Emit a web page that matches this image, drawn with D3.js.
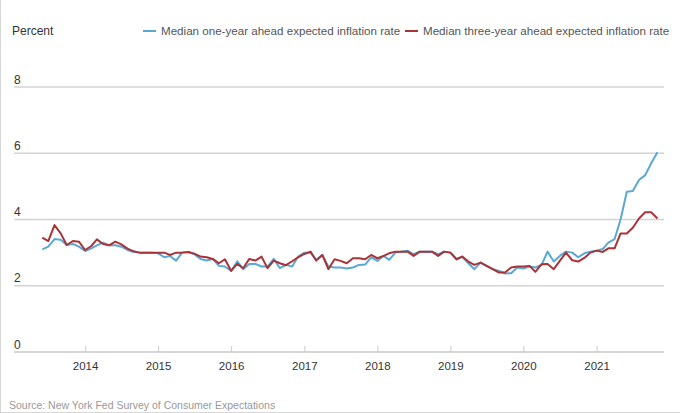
<!DOCTYPE html>
<html>
  <head>
    <meta charset="utf-8" />
    <title>Expected inflation</title>
    <script src="https://d3js.org/d3.v7.min.js"></script>
    <style>
      body { margin: 0; background: #fff; }
      text { font-family: "Liberation Sans", Arial, sans-serif; }
    </style>
  </head>
  <body>
    <svg id="chart" width="680" height="413"></svg>

    <script>
      // monthly, June 2013 .. November 2021
      var startMonth = new Date(2013, 5, 1);

      var oneYear = [
        3.1, 3.18, 3.41, 3.39, 3.23, 3.26, 3.18,
        3.05, 3.13, 3.22, 3.3, 3.22, 3.22, 3.18, 3.08, 3.02, 3.0, 3.0, 3.0,
        2.98, 2.86, 2.9, 2.76, 3.0, 3.02, 2.95, 2.81, 2.76, 2.81, 2.6, 2.58,
        2.45, 2.74, 2.5, 2.66, 2.66, 2.58, 2.58, 2.81, 2.53, 2.63, 2.58, 2.88,
        3.0, 3.0, 2.78, 2.93, 2.58, 2.55, 2.55, 2.52, 2.55, 2.63, 2.64, 2.86,
        2.75, 2.9, 2.78, 3.0, 3.03, 3.06, 2.95, 3.03, 3.03, 3.03, 2.95, 3.03,
        3.0, 2.8, 2.88, 2.68, 2.5, 2.7, 2.6, 2.5, 2.45, 2.37, 2.38, 2.55,
        2.52, 2.58, 2.55, 2.63, 3.03, 2.73, 2.9, 3.03, 3.0, 2.86, 2.98, 3.03,
        3.06, 3.11, 3.3, 3.41, 4.0, 4.84, 4.86, 5.19, 5.34, 5.7, 6.03
      ];

      var threeYear = [
        3.45, 3.35, 3.83, 3.58, 3.23, 3.35, 3.33,
        3.08, 3.2, 3.4, 3.26, 3.22, 3.33, 3.25, 3.12, 3.04, 3.0, 3.0, 3.0,
        3.0, 3.0, 2.93, 3.0, 3.0, 3.02, 2.97, 2.88, 2.86, 2.81, 2.68, 2.8,
        2.45, 2.66, 2.53, 2.81, 2.76, 2.88, 2.53, 2.76, 2.68, 2.62, 2.74, 2.86,
        2.96, 3.03, 2.76, 2.93, 2.5, 2.8, 2.75, 2.68, 2.83, 2.83, 2.8, 2.93,
        2.83, 2.9, 2.98, 3.03, 3.03, 3.03, 2.9, 3.03, 3.03, 3.03, 2.9, 3.03,
        3.0, 2.8, 2.88, 2.73, 2.63, 2.7, 2.6, 2.5, 2.4, 2.4, 2.55, 2.58,
        2.58, 2.6, 2.42, 2.65, 2.66, 2.5, 2.75, 3.0, 2.77, 2.73, 2.84, 3.0,
        3.06, 3.02, 3.13, 3.13, 3.58, 3.58, 3.75, 4.03, 4.22, 4.22, 4.03
      ];

      var yTicks = [0, 2, 4, 6, 8];
      var seriesNames = [
        "Median one-year ahead expected inflation rate",
        "Median three-year ahead expected inflation rate"
      ];
      var seriesColors = ["#5aa8d4", "#a8343a"];

      var months = oneYear.map(function (v, i) {
        return d3.timeMonth.offset(startMonth, i);
      });

      var svg = d3.select("#chart");

      // thin frame on the left and bottom
      svg.append("line").attr("x1", 0.5).attr("x2", 0.5).attr("y1", 0).attr("y2", 413)
        .style("stroke", "#d6d6d6");
      svg.append("line").attr("x1", 0).attr("x2", 680).attr("y1", 412.5).attr("y2", 412.5)
        .style("stroke", "#d6d6d6");

      var x = d3.scaleTime()
        .domain([startMonth, months[months.length - 1]])
        .range([42.3, 657.4]);

      var y = d3.scaleLinear().domain([0, 8]).range([352, 87]);

      // horizontal gridlines + labels above them
      var grid = svg.append("g");
      yTicks.forEach(function (t) {
        grid.append("line")
          .attr("x1", 14).attr("x2", 664)
          .attr("y1", y(t)).attr("y2", y(t))
          .style("stroke", t === 0 ? "#c8c8c8" : "#d4d4d4")
          .style("stroke-width", 1.3);
        grid.append("text")
          .attr("x", 14)
          .attr("y", y(t) - 3.5)
          .attr("font-size", 12)
          .attr("fill", "#333")
          .text(t);
      });

      // x axis: ticks above the baseline, year labels below
      var years = d3.timeYear.range(new Date(2014, 0, 1), new Date(2022, 0, 1));
      var xAxis = d3.axisBottom(x)
        .tickValues(years)
        .tickFormat(d3.timeFormat("%Y"))
        .tickSize(-6)
        .tickPadding(10);

      var ax = svg.append("g").attr("transform", "translate(0," + y(0) + ")").call(xAxis);
      ax.select(".domain").remove();
      ax.selectAll(".tick line").style("stroke", "#ccc");
      ax.selectAll(".tick text")
        .attr("font-size", 11.5)
        .attr("fill", "#333")
        .style("font-family", "'Liberation Sans', Arial, sans-serif");

      var line = d3.line()
        .x(function (d, i) { return x(months[i]); })
        .y(function (d) { return y(d); });

      [oneYear, threeYear].forEach(function (s, k) {
        svg.append("path")
          .datum(s)
          .attr("d", line)
          .style("fill", "none")
          .style("stroke", seriesColors[k])
          .style("stroke-width", 2)
          .style("stroke-linejoin", "round");
      });

      // title & legend
      svg.append("text")
        .attr("x", 12).attr("y", 35)
        .attr("font-size", 12)
        .attr("fill", "#333")
        .text("Percent");

      var legendX = [143, 405];
      seriesNames.forEach(function (name, k) {
        svg.append("line")
          .attr("x1", legendX[k]).attr("x2", legendX[k] + 13)
          .attr("y1", 31).attr("y2", 31)
          .style("stroke", seriesColors[k])
          .style("stroke-width", 2);
        svg.append("text")
          .attr("x", legendX[k] + 18).attr("y", 35)
          .attr("font-size", 11.6)
          .attr("fill", "#555")
          .text(name);
      });

      svg.append("text")
        .attr("x", 9).attr("y", 409)
        .attr("font-size", 10.5)
        .attr("fill", "#999")
        .text("Source: New York Fed Survey of Consumer Expectations");
    </script>
  </body>
</html>
